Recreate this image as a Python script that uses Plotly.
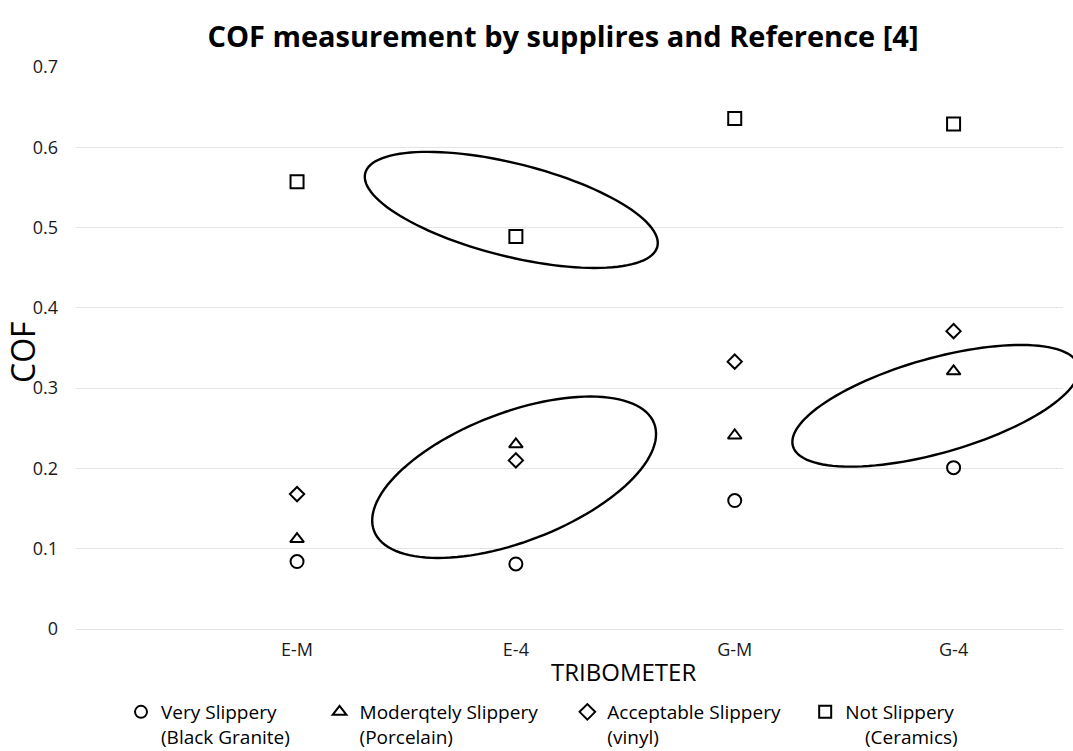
import numpy as np
import plotly.graph_objects as go

# ---- data ----
categories = ["E-M", "E-4", "G-M", "G-4"]
cat_pos = [1, 2, 3, 4]
very_slippery = [0.084, 0.081, 0.160, 0.201]        # Black Granite
moderately_slippery = [0.112, 0.230, 0.241, 0.321]  # Porcelain
acceptable_slippery = [0.168, 0.210, 0.333, 0.371]  # vinyl
not_slippery = [0.557, 0.489, 0.636, 0.629]         # Ceramics
y_ticks = [0, 0.1, 0.2, 0.3, 0.4, 0.5, 0.6, 0.7]
y_tick_labels = ["0", "0.1", "0.2", "0.3", "0.4", "0.5", "0.6", "0.7"]

NB = "\u00a0"
series_names = [
    "Very Slippery<br>(Black Granite)" + NB * 5,
    "Moderqtely Slippery" + NB * 5 + "<br>(Porcelain)",
    "Acceptable Slippery" + NB * 4 + "<br>(vinyl)",
    "Not Slippery<br>" + NB * 4 + "(Ceramics)",
]
series_values = [very_slippery, moderately_slippery, acceptable_slippery, not_slippery]
series_symbols = ["circle-open", "triangle-up-open", "diamond-open", "square-open"]
series_sizes = [13, 12, 11, 13]

# highlight ellipses: centre in data units, semi-axes in px, tilt in degrees (CCW)
ellipses = [
    dict(cx=1.979, cy=0.522, a=150.6, b=46.4, tilt=-14.1),
    dict(cx=1.992, cy=0.189, a=150.0, b=64.5, tilt=21.0),
    dict(cx=3.918, cy=0.278, a=148.3, b=47.3, tilt=15.8),
]

# ---- layout geometry ----
W, H = 1073, 751
ML, MR, MT, MB = 76, 10, 67, 122
PW, PH = W - ML - MR, H - MT - MB
XR = [-0.01, 4.5]
YR = [0, 0.7]
FONT = "Open Sans"

fig = go.Figure()
for name, vals, sym, sz in zip(series_names, series_values, series_symbols, series_sizes):
    fig.add_trace(go.Scatter(
        x=cat_pos, y=vals, mode="markers", name=name,
        marker=dict(symbol=sym, size=sz, color="black", line=dict(width=2, color="black")),
    ))


def ellipse_path(e, n=120):
    cxp = ML + (e["cx"] - XR[0]) / (XR[1] - XR[0]) * PW
    cyp = MT + PH - (e["cy"] - YR[0]) / (YR[1] - YR[0]) * PH
    phi = np.deg2rad(e["tilt"])
    t = np.linspace(0, 2 * np.pi, n, endpoint=False)
    dx = e["a"] * np.cos(t) * np.cos(phi) - e["b"] * np.sin(t) * np.sin(phi)
    dy = e["a"] * np.cos(t) * np.sin(phi) + e["b"] * np.sin(t) * np.cos(phi)
    px = cxp + dx
    py = cyp - dy
    xs = (px - ML) / PW
    ys = (MT + PH - py) / PH
    pts = [f"{x:.5f},{y:.5f}" for x, y in zip(xs, ys)]
    return "M" + " L".join(pts) + " Z"


shapes = [
    dict(type="path", xref="paper", yref="paper", path=ellipse_path(e),
         line=dict(color="black", width=2.4), fillcolor="rgba(0,0,0,0)", layer="above")
    for e in ellipses
]

fig.update_layout(
    width=W, height=H,
    margin=dict(l=ML, r=MR, t=MT, b=MB, autoexpand=False),
    paper_bgcolor="white", plot_bgcolor="white",
    font=dict(family=FONT, size=18, color="#1a1a1a"),
    title=dict(text="<b>COF measurement by supplires and Reference [4]</b>",
               x=563 / W, xanchor="center", xref="container",
               y=1 - 37 / H, yanchor="middle", yref="container",
               font=dict(family=FONT, size=29, color="black")),
    xaxis=dict(range=XR, tickvals=cat_pos, ticktext=categories, showgrid=False,
               zeroline=False, showline=False, ticks="", ticklabelstandoff=8,
               tickfont=dict(size=18), automargin=False),
    yaxis=dict(range=YR, tickvals=y_ticks, ticktext=y_tick_labels, showgrid=True,
               gridcolor="#e3e3e3", gridwidth=1, zeroline=True, zerolinecolor="#e3e3e3",
               zerolinewidth=1, showline=False,
               ticks="", ticklabelstandoff=17, tickfont=dict(size=18), automargin=False),
    showlegend=True,
    legend=dict(orientation="h", x=(121 - ML) / PW, xanchor="left",
                y=(MT + PH - 693) / PH, yanchor="top", valign="top",
                font=dict(size=19, color="black"), bgcolor="rgba(0,0,0,0)",
                tracegroupgap=0, itemsizing="constant"),
    shapes=shapes,
    annotations=[
        dict(text="TRIBOMETER", xref="paper", yref="paper",
             x=(623 - ML) / PW, y=(MT + PH - 671) / PH, xanchor="center", yanchor="middle",
             showarrow=False, font=dict(size=24, color="black")),
        dict(text="COF", xref="paper", yref="paper", textangle=-90,
             x=(22 - ML) / PW, y=(MT + PH - 352) / PH, xanchor="center", yanchor="middle",
             showarrow=False, font=dict(size=32, color="black")),
    ],
)

fig.write_html("out.html", config={"displayModeBar": False},
               post_script="document.body.style.margin='0';")
